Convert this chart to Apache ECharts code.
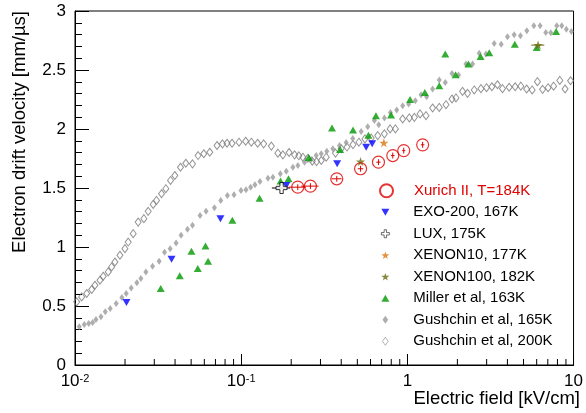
<!DOCTYPE html>
<html>
<head>
<meta charset="utf-8">
<script src="https://cdn.jsdelivr.net/npm/echarts/dist/echarts.min.js"></script>
<style>
html, body { margin: 0; padding: 0; background: #fff; }
#main { width: 586px; height: 413px; }
</style>
</head>
<body>
<div id="main"></div>
<script>
// Gushchin et al, 200K (open diamonds)
var gush200X = [0.01024,0.01097,0.01176,0.0126,0.01318,0.01413,0.01479,0.01585,0.01661,0.01739,
  0.01863,0.01997,0.0209,0.0224,0.024,0.02597,0.02756,0.02954,0.03095,0.03317,
  0.0352,0.03757,0.03987,0.04313,0.04642,0.05092,0.05502,0.05955,0.0647,0.07155,
  0.07714,0.08218,0.08806,0.09701,0.1064,0.1151,0.1256,0.1365,0.1519,0.1663,
  0.1782,0.1942,0.2096,0.2224,0.235,0.2519,0.2677,0.2842,0.3032,0.3249,
  0.3694,0.3999,0.4332,0.4707,0.5113,0.5556,0.6053,0.6632,0.7277,0.7873,
  0.8472,0.9371,1.028,1.102,1.192,1.295,1.419,1.556,1.708,1.856,
  1.961,2.148,2.302,2.526,2.771,2.994,3.226,3.486,3.736,4.098,
  4.452,4.818,5.221,5.634,6.063,6.514,7.029,7.586,8.263,8.892,9.594];
var gush200Y = [0.535,0.577,0.606,0.64,0.676,0.718,0.752,0.789,0.831,0.873,
  0.93,0.986,1.042,1.113,1.211,1.24,1.302,1.361,1.395,1.451,
  1.494,1.564,1.606,1.676,1.71,1.705,1.775,1.79,1.803,1.86,
  1.874,1.879,1.879,1.888,1.896,1.888,1.879,1.874,1.855,1.795,
  1.781,1.801,1.781,1.773,1.761,1.752,1.727,1.724,1.733,1.761,
  1.796,1.834,1.847,1.868,1.888,1.916,1.923,1.944,1.959,2.001,
  2.001,2.085,2.094,2.099,2.128,2.113,2.178,2.183,2.206,2.254,
  2.263,2.319,2.302,2.331,2.342,2.35,2.358,2.375,2.342,2.354,
  2.358,2.363,2.339,2.331,2.401,2.336,2.35,2.363,2.412,2.339,2.409];

// Gushchin et al, 165K (filled grey diamonds)
var gush165X = [0.01061,0.01137,0.01209,0.01277,0.01337,0.01433,0.01521,0.01629,0.0177,0.01915,
  0.02033,0.02178,0.02357,0.02491,0.0267,0.02929,0.03208,0.03457,0.03736,0.04059,
  0.04348,0.04753,0.05092,0.05656,0.06146,0.06902,0.07534,0.08262,0.09053,0.09973,
  0.1069,0.114,0.121,0.1297,0.1449,0.1552,0.172,0.1868,0.2047,0.2194,
  0.2406,0.264,0.2829,0.3032,0.3275,0.3559,0.3905,0.4283,0.4694,0.5272,
  0.5774,0.6335,0.6724,0.7277,0.7907,0.8627,0.9371,1.018,1.117,1.209,
  1.306,1.419,1.556,1.691,1.856,2.033,2.252,2.468,2.706,2.97,
  3.331,3.669,4.003,4.391,4.792,5.235,5.768,6.293,6.808,7.295,
  7.927,8.494,9.052,9.701];
var gush165Y = [0.324,0.344,0.352,0.361,0.386,0.408,0.451,0.479,0.522,0.572,
  0.606,0.653,0.696,0.733,0.789,0.837,0.879,0.955,0.986,1.034,
  1.099,1.15,1.184,1.268,1.304,1.333,1.395,1.437,1.443,1.479,
  1.485,1.507,1.527,1.555,1.583,1.592,1.62,1.642,1.676,1.691,
  1.719,1.741,1.775,1.79,1.811,1.832,1.86,1.885,1.919,1.978,
  2.02,2.071,2.037,2.094,2.139,2.161,2.198,2.212,2.24,2.291,
  2.274,2.339,2.415,2.395,2.471,2.457,2.55,2.55,2.643,2.635,
  2.724,2.719,2.781,2.798,2.79,2.832,2.874,2.874,2.817,2.815,
  2.874,2.874,2.846,2.826];

// Miller et al, 163K
var millerX = [0.0328,0.0427,0.0502,0.0548,0.061,0.0632,0.0885,0.129,0.1726,0.1927,
  0.255,0.352,0.394,0.471,0.583,0.647,0.798,1.038,1.274,1.556,
  1.691,1.95,2.332,2.757,3.11,4.43,6.0,7.85];
var millerY = [0.648,0.757,0.964,0.817,1.008,0.879,1.226,1.414,1.56,1.578,
  1.758,2.009,1.826,1.992,1.948,2.113,2.119,2.249,2.31,2.367,
  2.635,2.46,2.55,2.615,2.646,2.719,2.691,2.826];

// EXO-200, 167K
var exoX = [0.0204,0.0381,0.075,0.187,0.378,0.565,0.614];
var exoY = [0.53,0.896,1.24,1.522,1.705,1.845,1.874];

// LUX, 175K
var luxX = [0.175];
var luxY = [1.5];
var luxXErr = [0.022];

// XENON10, 177K
var xe10X = [0.722];
var xe10Y = [1.883];

// XENON100, 182K
var xe100X = [0.523, 6.12];
var xe100Y = [1.724, 2.711];
var xe100XErr = [0, 0.55];

// Xurich II, T=184K
var xurichX = [0.219,0.261,0.376,0.523,0.67,0.817,0.951,1.236];
var xurichY = [1.507,1.516,1.578,1.663,1.719,1.775,1.817,1.866];
var xurichXErr = [0.026,0.031,0.026,0.02,0.02,0.02,0.02,0.03];
var xurichYErr = [0.025,0.025,0.025,0.025,0.025,0.025,0.025,0.025];

// log axis minor tick positions (2..9 in each decade)
var decades = [0.01, 0.1, 1];
var minorMult = [2, 3, 4, 5, 6, 7, 8, 9];

var FONT = "'Liberation Sans', Arial, Helvetica, sans-serif";
// marker shapes (paths so the legend keeps their aspect)
var STAR = 'path://M10,0 L12.35,6.76 L19.51,6.91 L13.8,11.24 L15.88,18.09 L10,14 L4.12,18.09 L6.2,11.24 L0.49,6.91 L7.65,6.76 Z';
var DOWN_TRI = 'path://M0,0 L10,0 L5,9 Z';
var UP_TRI = 'path://M5,0 L10,9 L0,9 Z';
var DIAMOND = 'path://M5,0 L10,7 L5,14 L0,7 Z';
var OPEN_CROSS = 'path://M3.5,0 L6.5,0 L6.5,3.5 L10,3.5 L10,6.5 L6.5,6.5 L6.5,10 L3.5,10 L3.5,6.5 L0,6.5 L0,3.5 L3.5,3.5 Z';

function pairs(xs, ys) {
  return xs.map(function (x, i) { return [x, ys[i]]; });
}

// horizontal / vertical error bars
function errSeries(name, xs, ys, xe, ye, color, z) {
  return {
    type: 'custom',
    name: name,
    z: z,
    silent: true,
    data: xs.map(function (x, i) { return [x, ys[i], xe[i], ye ? ye[i] : 0]; }),
    encode: { x: 0, y: 1 },
    renderItem: function (params, api) {
      var x = api.value(0), y = api.value(1), ex = api.value(2), ey = api.value(3);
      var kids = [];
      if (ex > 0) {
        var l = api.coord([x - ex, y]), r = api.coord([x + ex, y]);
        kids.push({ type: 'line', shape: { x1: l[0], y1: l[1], x2: r[0], y2: r[1] },
          style: { stroke: color, lineWidth: 1 } });
      }
      if (ey > 0) {
        var b = api.coord([x, y - ey]), t = api.coord([x, y + ey]);
        kids.push({ type: 'line', shape: { x1: b[0], y1: b[1], x2: t[0], y2: t[1] },
          style: { stroke: color, lineWidth: 1 } });
      }
      return { type: 'group', children: kids };
    }
  };
}

var minorTicks = [];
decades.forEach(function (d) {
  minorMult.forEach(function (m) { minorTicks.push([+(d * m).toPrecision(3), 0]); });
});

var myChart = echarts.init(document.getElementById('main'));

var options = {
  animation: false,
  backgroundColor: '#fff',
  grid: { left: 75, right: 12, top: 11, bottom: 48, show: true, borderColor: '#000', borderWidth: 1 },
  xAxis: {
    type: 'log',
    logBase: 10,
    min: 0.01,
    max: 10,
    axisLine: { show: true, lineStyle: { color: '#000', width: 1 } },
    axisTick: { show: true, inside: true, length: 11, lineStyle: { color: '#000' } },
    splitLine: { show: false },
    axisLabel: {
      margin: 8,
      color: '#000',
      fontFamily: FONT,
      fontSize: 17,
      showMinLabel: true,
      showMaxLabel: true,
      formatter: function (v) {
        var e = Math.round(Math.log(v) / Math.LN10);
        if (e === 0) return '1';
        if (e === 1) return '10';
        return '{b|10}{e|' + e + '}';
      },
      rich: {
        b: { fontFamily: FONT, fontSize: 17, color: '#000' },
        e: { fontFamily: FONT, fontSize: 11, color: '#000', verticalAlign: 'top' }
      }
    }
  },
  yAxis: {
    type: 'value',
    min: 0,
    max: 3,
    interval: 0.5,
    axisLine: { show: true, lineStyle: { color: '#000', width: 1 } },
    axisTick: { show: true, inside: true, length: 14, lineStyle: { color: '#000' } },
    minorTick: { show: true, splitNumber: 5, length: 7, lineStyle: { color: '#000' } },
    splitLine: { show: false },
    axisLabel: { margin: 9, color: '#000', fontFamily: FONT, fontSize: 17 }
  },
  legend: [
    {
      data: ['Xurich II, T=184K'],
      orient: 'vertical',
      left: 379, top: 180,
      padding: 0, itemGap: 0,
      itemWidth: 13, itemHeight: 13,
      selectedMode: false,
      textStyle: { fontFamily: FONT, fontSize: 15, color: '#e00000', lineHeight: 21.5, padding: [0, 0, 0, 16] }
    },
    {
      data: ['EXO-200, 167K', 'LUX, 175K', 'XENON10, 177K', 'XENON100, 182K',
        'Miller et al, 163K', 'Gushchin et al, 165K', 'Gushchin et al, 200K'],
      orient: 'vertical',
      left: 381, top: 201.5,
      padding: 0, itemGap: 0,
      itemWidth: 8, itemHeight: 8,
      selectedMode: false,
      itemStyle: { borderWidth: 0.7 },
      textStyle: { fontFamily: FONT, fontSize: 15, color: '#000', lineHeight: 21.5, padding: [0, 0, 0, 19] }
    }
  ],
  graphic: [
    {
      type: 'text', x: 20, y: 11, rotation: Math.PI / 2,
      style: { text: 'Electron drift velocity [mm/µs]', font: '18.5px ' + FONT, fill: '#000',
        textAlign: 'right', textVerticalAlign: 'middle' }
    },
    {
      type: 'text', x: 580, y: 399,
      style: { text: 'Electric field [kV/cm]', font: '18.5px ' + FONT, fill: '#000',
        textAlign: 'right', textVerticalAlign: 'middle' }
    }
  ],
  series: [
    {
      type: 'custom', name: 'minorTicks', silent: true, z: 5,
      data: minorTicks,
      encode: { x: 0, y: 1 },
      renderItem: function (params, api) {
        var p = api.coord([api.value(0), 0]);
        return { type: 'line', shape: { x1: p[0], y1: p[1], x2: p[0], y2: p[1] - 6 },
          style: { stroke: '#000', lineWidth: 1 } };
      }
    },
    {
      name: 'Gushchin et al, 200K', type: 'scatter', z: 2,
      symbol: DIAMOND, symbolSize: [6, 8],
      itemStyle: { color: 'transparent', borderColor: '#777', borderWidth: 1 },
      data: pairs(gush200X, gush200Y)
    },
    {
      name: 'Gushchin et al, 165K', type: 'scatter', z: 2,
      symbol: DIAMOND, symbolSize: [5, 7],
      itemStyle: { color: '#9a9a9a' },
      data: pairs(gush165X, gush165Y)
    },
    {
      name: 'Miller et al, 163K', type: 'scatter', z: 2,
      symbol: UP_TRI, symbolSize: [8, 7],
      itemStyle: { color: '#009900' },
      data: pairs(millerX, millerY)
    },
    {
      name: 'EXO-200, 167K', type: 'scatter', z: 2,
      symbol: DOWN_TRI, symbolSize: [8, 7],
      itemStyle: { color: '#0000ff' },
      data: pairs(exoX, exoY)
    },
    errSeries('xe100Err', xe100X, xe100Y, xe100XErr, null, '#6b6b10', 2),
    {
      name: 'XENON100, 182K', type: 'scatter', z: 2,
      symbol: STAR, symbolSize: 9,
      itemStyle: { color: '#6b6b10' },
      data: pairs(xe100X, xe100Y)
    },
    {
      name: 'XENON10, 177K', type: 'scatter', z: 2,
      symbol: STAR, symbolSize: 9,
      itemStyle: { color: '#dd7711' },
      data: pairs(xe10X, xe10Y)
    },
    errSeries('luxErr', luxX, luxY, luxXErr, null, '#000', 2),
    {
      name: 'LUX, 175K', type: 'scatter', z: 2,
      symbol: OPEN_CROSS, symbolSize: 11,
      itemStyle: { color: '#fff', borderColor: '#000', borderWidth: 1 },
      data: pairs(luxX, luxY)
    },
    errSeries('xurichErr', xurichX, xurichY, xurichXErr, xurichYErr, '#e00000', 3),
    {
      name: 'Xurich II, T=184K', type: 'scatter', z: 3,
      symbol: 'circle', symbolSize: 12,
      itemStyle: { color: 'transparent', borderColor: '#e00000', borderWidth: 1.2 },
      data: pairs(xurichX, xurichY)
    }
  ]
};

myChart.setOption(options, true);
</script>
</body>
</html>
